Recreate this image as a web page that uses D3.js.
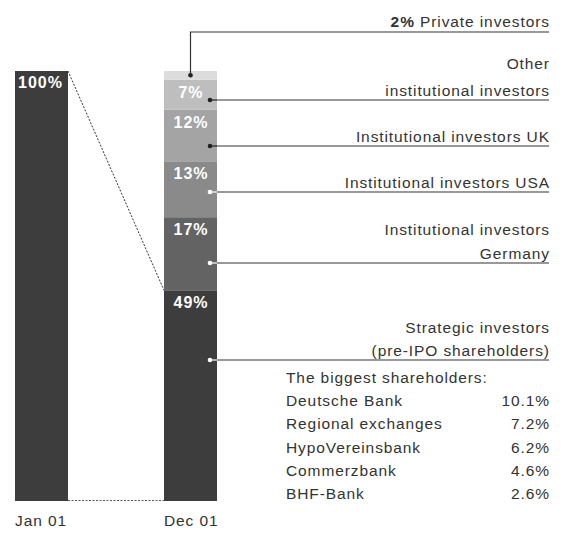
<!DOCTYPE html>
<html>
<head>
<meta charset="utf-8">
<script src="https://cdn.jsdelivr.net/npm/d3@7"></script>
<style>
  body { margin: 0; background: #fff; }
  svg text { font-family: "Liberation Sans", Arial, sans-serif; fill: #333; }
</style>
</head>
<body>
<svg id="chart" width="563" height="538"></svg>
<script>
// Data
var periods = ["Jan 01", "Dec 01"];
var janValue = 100;
var segNames = ["Strategic investors", "Institutional investors Germany", "Institutional investors USA",
                "Institutional investors UK", "Other institutional investors", "Private investors"];
var segValues = [49, 17, 13, 12, 7, 2];
var segColors = ["#3d3d3d", "#636363", "#8a8a8b", "#a4a4a5", "#bebebf", "#dcdcdd"];

var holders = ["Deutsche Bank", "Regional exchanges", "HypoVereinsbank", "Commerzbank", "BHF-Bank"];
var holderShares = [10.1, 7.2, 6.2, 4.6, 2.6];

// annotation layout (leader line y, label lines) for each segment, bottom to top
var notes = [
    { y: 360, dot: "#fff", lead: 23, lines: ["Strategic investors", "(pre-IPO shareholders)"] },
    { y: 263, dot: "#fff", lead: 24, lines: ["Institutional investors", "Germany"] },
    { y: 192, dot: "#fff", lead: 23, lines: ["Institutional investors USA"] },
    { y: 146, dot: "#222", lead: 23, lines: ["Institutional investors UK"] },
    { y: 100, dot: "#222", lead: 27, lines: ["Other", "institutional investors"] },
    { y: 32, dot: "#222", lead: 23, lines: [] }
];

var svg = d3.select("#chart");
var rightEdge = 549;
var labelSize = "15.5px";
var spacing = "0.9px";

var x = d3.scaleBand()
    .domain(periods)
    .range([15, 217])
    .paddingInner(0.6443)
    .paddingOuter(0);

var y = d3.scaleLinear()
    .domain([0, 100])
    .range([501, 71]);

var bw = x.bandwidth();

// Jan bar
svg.append("rect")
    .attr("x", x("Jan 01"))
    .attr("y", y(janValue))
    .attr("width", bw)
    .attr("height", y(0) - y(janValue))
    .attr("fill", "#3d3d3d");

svg.append("text")
    .attr("x", x("Jan 01") + 3)
    .attr("y", y(janValue) + 17)
    .style("fill", "#fff")
    .style("font-weight", "bold")
    .style("font-size", "16px")
    .style("letter-spacing", "1px")
    .text(janValue + "%");

// Dec stacked bar
var stacked = [];
var acc = 0;
segValues.forEach(function(v, i) {
    stacked.push({ name: segNames[i], value: v, y0: acc, y1: acc + v, color: segColors[i], note: notes[i] });
    acc += v;
});

svg.selectAll(".seg")
    .data(stacked)
    .enter()
    .append("rect")
    .attr("class", "seg")
    .attr("x", x("Dec 01"))
    .attr("y", function(d) { return y(d.y1); })
    .attr("width", bw)
    .attr("height", function(d) { return y(d.y0) - y(d.y1); })
    .attr("fill", function(d) { return d.color; });

svg.selectAll(".segLabel")
    .data(stacked.filter(function(d) { return d.value > 2; }))
    .enter()
    .append("text")
    .attr("class", "segLabel")
    .attr("x", x("Dec 01") + bw / 2 + 0.5)
    .attr("y", function(d) { return y(d.y1) + 18; })
    .attr("text-anchor", "middle")
    .style("fill", "#fff")
    .style("font-weight", "bold")
    .style("font-size", "16px")
    .style("letter-spacing", "1px")
    .text(function(d) { return d.value + "%"; });

// dotted connectors
svg.append("line")
    .attr("x1", x("Jan 01") + bw).attr("y1", y(janValue))
    .attr("x2", x("Dec 01")).attr("y2", y(segValues[0]))
    .attr("stroke", "#333").attr("stroke-width", 1).attr("stroke-dasharray", "2,1.5");

svg.append("line")
    .attr("x1", x("Jan 01") + bw).attr("y1", y(0) - 0.5)
    .attr("x2", x("Dec 01")).attr("y2", y(0) - 0.5)
    .attr("stroke", "#555").attr("stroke-width", 1).attr("stroke-dasharray", "2,1.5");

// leader lines and dots
var barRight = x("Dec 01") + bw;
stacked.forEach(function(d) {
    var n = d.note;
    if (d.value === 2) {
        var cx = x("Dec 01") + bw / 2;
        var cy = (y(d.y0) + y(d.y1)) / 2;
        svg.append("path")
            .attr("d", "M" + cx + "," + cy + "V" + n.y + "H" + rightEdge)
            .attr("fill", "none").attr("stroke", "#333").attr("stroke-width", 1.2);
        svg.append("circle").attr("cx", cx).attr("cy", cy).attr("r", 2.3).attr("fill", n.dot);
    } else {
        var dx = barRight - 7;
        svg.append("line")
            .attr("x1", dx).attr("y1", n.y).attr("x2", barRight).attr("y2", n.y)
            .attr("stroke", n.dot).attr("stroke-width", 1.2);
        svg.append("line")
            .attr("x1", barRight).attr("y1", n.y).attr("x2", rightEdge).attr("y2", n.y)
            .attr("stroke", "#333").attr("stroke-width", 1.2);
        svg.append("circle").attr("cx", dx).attr("cy", n.y).attr("r", 2.3).attr("fill", n.dot);
    }
});

function label(xPos, yPos, anchor) {
    return svg.append("text")
        .attr("x", anchor === "end" ? xPos + 0.9 : xPos)
        .attr("y", yPos)
        .attr("text-anchor", anchor)
        .style("font-size", labelSize)
        .style("letter-spacing", spacing);
}

// labels
stacked.forEach(function(d) {
    var n = d.note;
    var k = n.lines.length;
    n.lines.forEach(function(line, j) {
        label(rightEdge, n.y - 4 - (k - 1 - j) * n.lead, "end").text(line);
    });
});

// private investors label
var priv = label(rightEdge, 27, "end");
priv.append("tspan").style("font-weight", "bold").text(segValues[5] + "%");
priv.append("tspan").text(" " + segNames[5]);

// biggest shareholders table
label(286, 383, "start").text("The biggest shareholders:");

var rowY = d3.scalePoint().domain(holders).range([406, 499]);

holders.forEach(function(h, i) {
    label(286, rowY(h), "start").text(h);
    label(rightEdge, rowY(h), "end").text(holderShares[i].toFixed(1) + "%");
});

// x labels
periods.forEach(function(p) {
    label(x(p), 526, "start").text(p);
});
</script>
</body>
</html>
